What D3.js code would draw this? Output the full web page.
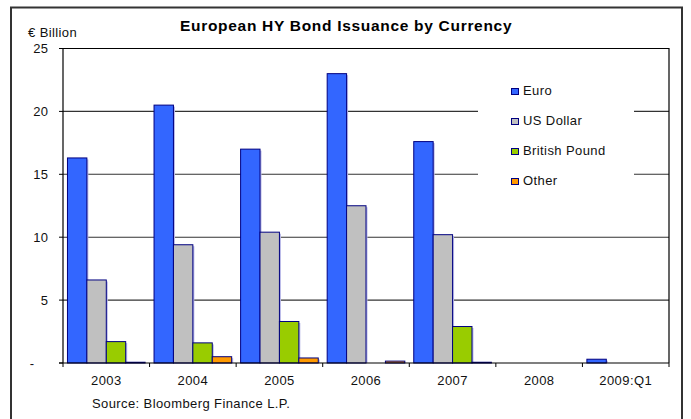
<!DOCTYPE html>
<html>
<head>
<meta charset="utf-8">
<script src="https://cdn.jsdelivr.net/npm/d3@7"></script>
<style>
  html, body { margin: 0; padding: 0; background: #fff; }
  svg { display: block; font-family: "Liberation Sans", Arial, sans-serif; }
  .lbl { font-size: 13px; letter-spacing: 0.4px; fill: #111; }
</style>
</head>
<body>
<svg id="chart" width="691" height="419"></svg>
<script>
// Issuance by year, € billion
const categories = ["2003", "2004", "2005", "2006", "2007", "2008", "2009:Q1"];
const seriesNames = ["Euro", "US Dollar", "British Pound", "Other"];
const euro         = [16.3, 20.5, 17.0, 23.0, 17.6, 0, 0.3];
const usDollar     = [6.6, 9.4, 10.4, 12.5, 10.2, 0, 0];
const britishPound = [1.7, 1.6, 3.3, 0, 2.9, 0, 0];
const other        = [0.06, 0.5, 0.4, 0.15, 0.06, 0, 0];
const yTicks = [0, 5, 10, 15, 20, 25];
const yTickLabels = ["-", "5", "10", "15", "20", "25"];

const seriesValues = [euro, usDollar, britishPound, other];
const colors = ["#3366FF", "#C0C0C0", "#99CC00", "#FF9900"];

const svg = d3.select("#chart");
const plot = { left: 63, right: 669, top: 48.5, bottom: 363 };

// outer frame
svg.append("rect")
  .attr("x", 11).attr("y", 7.5)
  .attr("width", 671).attr("height", 440)
  .attr("fill", "none").attr("stroke", "#333").attr("stroke-width", 2);

const x0 = d3.scaleBand().domain(categories).range([plot.left, plot.right]).padding(0);
const x1 = d3.scaleBand().domain(seriesNames).range([0, x0.bandwidth()])
  .paddingInner(0).paddingOuter(0.23);
const y = d3.scaleLinear().domain([0, 25]).range([plot.bottom, plot.top]);

// horizontal gridlines
svg.append("g").selectAll("line")
  .data(yTicks.filter(d => d > 0 && d < 25))
  .join("line")
  .attr("x1", plot.left).attr("x2", plot.right)
  .attr("y1", d => y(d)).attr("y2", d => y(d))
  .attr("stroke", "#333").attr("stroke-width", 1.1);

// plot frame (top and right)
svg.append("path")
  .attr("d", `M${plot.left},${plot.top}H${plot.right}V${plot.bottom}`)
  .attr("fill", "none").attr("stroke", "#000").attr("stroke-width", 1.2);

// legend panel covering gridlines
const legend = svg.append("g");
legend.append("rect")
  .attr("x", 478).attr("y", 70).attr("width", 156).attr("height", 124)
  .attr("fill", "#fff");

// bars
const groups = svg.append("g").selectAll("g")
  .data(categories)
  .join("g")
  .attr("transform", d => `translate(${x0(d)},0)`);

const barData = (cat, i) => seriesNames.map((s, k) => ({ s, k, v: seriesValues[k][i] }))
  .filter(d => d.v > 0);

// soft shadow to the right of each bar
groups.selectAll("rect.shadow")
  .data((d, i) => barData(d, i))
  .join("rect")
  .attr("class", "shadow")
  .attr("x", d => x1(d.s) + 1.5)
  .attr("y", d => y(d.v) + 1.5)
  .attr("width", x1.bandwidth())
  .attr("height", d => plot.bottom - y(d.v) - 1.5)
  .attr("fill", "#b8b8e8");

groups.selectAll("rect.bar")
  .data((d, i) => barData(d, i))
  .join("rect")
  .attr("class", "bar")
  .attr("x", d => x1(d.s))
  .attr("y", d => y(d.v))
  .attr("width", x1.bandwidth())
  .attr("height", d => plot.bottom - y(d.v))
  .attr("fill", d => colors[d.k])
  .attr("stroke", "#000080").attr("stroke-width", 1);

// y axis
const yAxis = svg.append("g").attr("transform", `translate(${plot.left},0)`);
yAxis.append("line")
  .attr("x1", 0).attr("x2", 0).attr("y1", plot.top).attr("y2", plot.bottom)
  .attr("stroke", "#000").attr("stroke-width", 1.2);
yAxis.selectAll("line.tick")
  .data(yTicks).join("line").attr("class", "tick")
  .attr("x1", -4).attr("x2", 0)
  .attr("y1", d => y(d)).attr("y2", d => y(d))
  .attr("stroke", "#000");
yAxis.selectAll("text")
  .data(yTicks).join("text")
  .attr("class", "lbl")
  .attr("x", d => d === 0 ? -28.5 : -14.5)
  .attr("y", d => y(d))
  .attr("dy", "0.35em")
  .attr("text-anchor", "end")
  .text((d, i) => yTickLabels[i]);

// x axis
const xAxis = svg.append("g");
xAxis.append("line")
  .attr("x1", plot.left - 4).attr("x2", plot.right)
  .attr("y1", plot.bottom).attr("y2", plot.bottom)
  .attr("stroke", "#000").attr("stroke-width", 1.2);
const boundaries = categories.map(c => x0(c)).concat([plot.right]);
xAxis.selectAll("line.tick")
  .data(boundaries).join("line").attr("class", "tick")
  .attr("x1", d => d).attr("x2", d => d)
  .attr("y1", plot.bottom).attr("y2", plot.bottom + 4)
  .attr("stroke", "#000");
xAxis.selectAll("text")
  .data(categories).join("text")
  .attr("class", "lbl")
  .attr("x", d => x0(d) + x0.bandwidth() / 2)
  .attr("y", 385)
  .attr("text-anchor", "middle")
  .text(d => d);

// legend entries
const items = legend.selectAll("g.item")
  .data(seriesNames).join("g").attr("class", "item")
  .attr("transform", (d, i) => `translate(511,${91 + i * 30})`);
items.append("rect")
  .attr("x", 0.5).attr("y", -2.5).attr("width", 7).attr("height", 6)
  .attr("fill", (d, i) => colors[i])
  .attr("stroke", "#000080").attr("stroke-width", 1);
items.append("text")
  .attr("class", "lbl")
  .attr("x", 12).attr("y", 3.5)
  .text(d => d);

// titles and notes
svg.append("text")
  .attr("x", 180).attr("y", 31)
  .attr("font-size", 15.5).attr("font-weight", "bold").attr("fill", "#000")
  .attr("letter-spacing", "0.7px")
  .text("European HY Bond Issuance by Currency");
svg.append("text")
  .attr("class", "lbl")
  .attr("x", 28).attr("y", 37)
  .text("€ Billion");
svg.append("text")
  .attr("class", "lbl")
  .attr("x", 92).attr("y", 408)
  .text("Source: Bloomberg Finance L.P.");
</script>
</body>
</html>
